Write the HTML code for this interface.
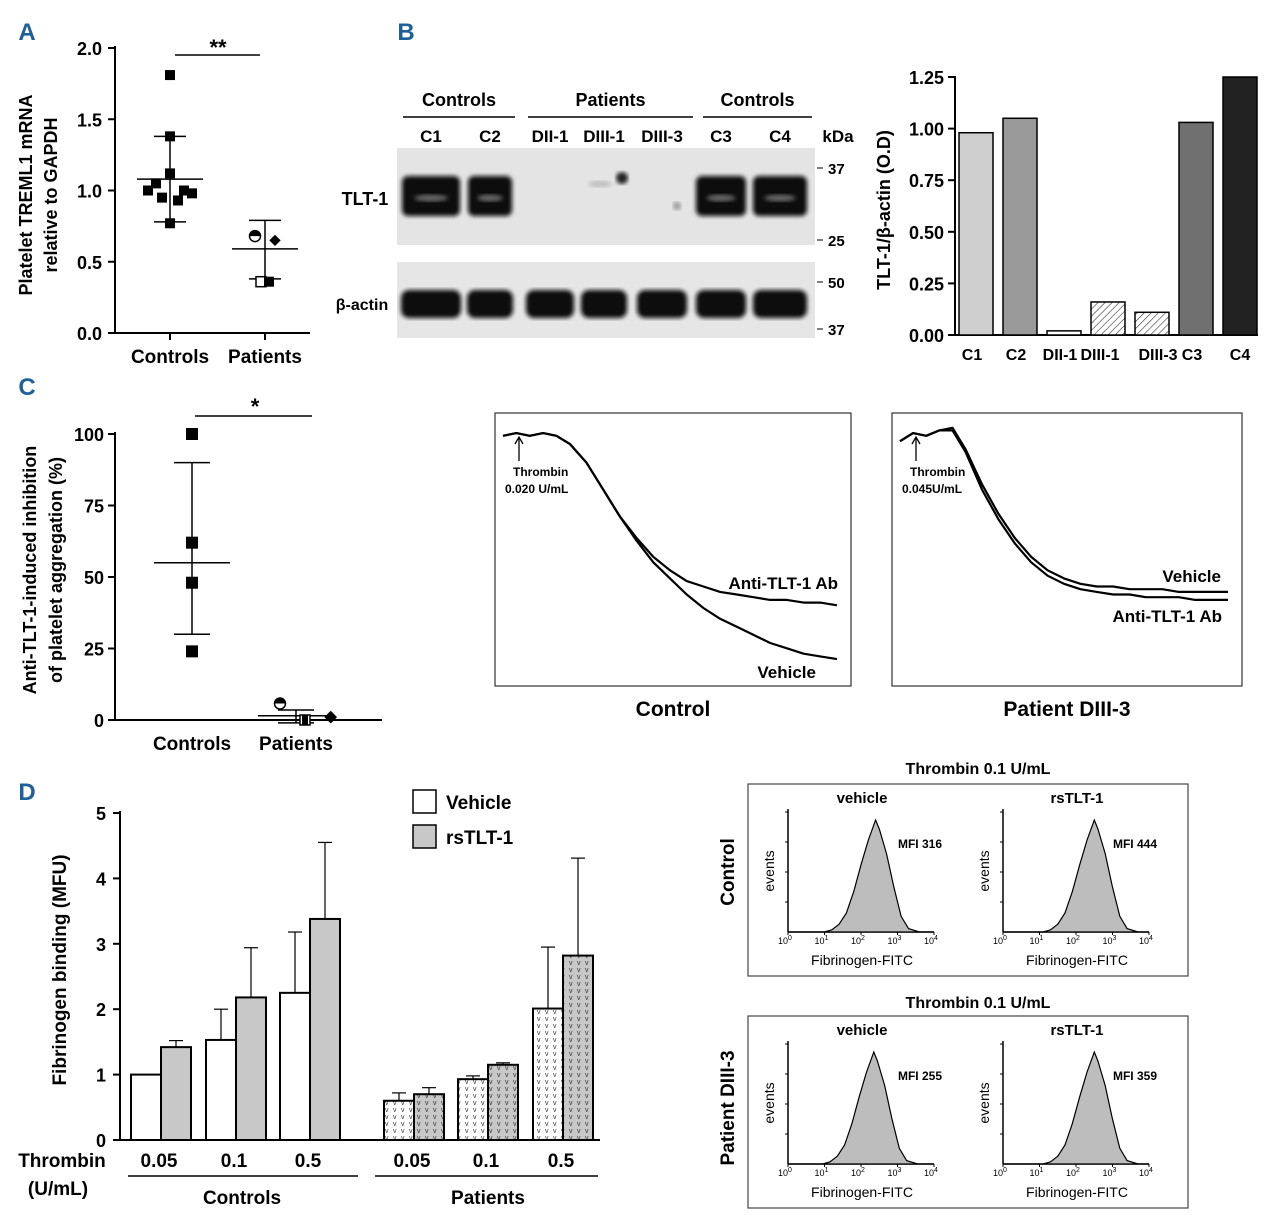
<!DOCTYPE html>
<html><head><meta charset="utf-8">
<style>
html,body{margin:0;padding:0;background:#fff;}
svg{display:block;font-family:"Liberation Sans","DejaVu Sans",sans-serif;}
</style></head>
<body>
<svg id="fig" width="1280" height="1227" viewBox="0 0 1280 1227" xmlns="http://www.w3.org/2000/svg">
<defs>
<pattern id="hatch" width="5" height="5" patternUnits="userSpaceOnUse" patternTransform="rotate(45)"><rect width="5" height="5" fill="#fff"/><line x1="0" y1="0" x2="0" y2="5" stroke="#333" stroke-width="1.2"/></pattern>
<pattern id="dotsW" width="8" height="7" patternUnits="userSpaceOnUse"><rect width="8" height="7" fill="#fff"/><text x="1" y="6" font-size="7" fill="#333">v</text></pattern>
<pattern id="dotsG" width="8" height="7" patternUnits="userSpaceOnUse"><rect width="8" height="7" fill="#c8c8c8"/><text x="1" y="6" font-size="7" fill="#333">v</text></pattern>
<filter id="blur"><feGaussianBlur stdDeviation="2.2"/></filter>
</defs>
<g id="panels"></g>
</svg>
<script>
// ---------- Data ----------
// Panel A
const aCats=["Controls","Patients"];
const aControls=[1.81,1.38,1.12,1.05,1.0,1.0,0.98,0.95,0.93,0.77];
const aPatients=[0.68,0.65,0.36,0.36];
const aMean=[1.08,0.59], aSdHi=[1.38,0.79], aSdLo=[0.78,0.38];
const aTicks=[0,0.5,1.0,1.5,2.0];
// Panel B bars
const bCats=["C1","C2","DII-1","DIII-1","DIII-3","C3","C4"];
const bVals=[0.98,1.05,0.02,0.16,0.11,1.03,1.25];
const bTicks=[0,0.25,0.5,0.75,1.0,1.25];
// Panel C
const cControls=[100,62,48,24];
const cPatients=[4,1,0,0];
const cMean=[55,1.5], cSdHi=[90,3.5], cSdLo=[30,-1];
const cTicks=[0,25,50,75,100];
// Aggregation traces
const trX=[0,0.04,0.08,0.12,0.16,0.2,0.25,0.3,0.35,0.4,0.45,0.5,0.55,0.6,0.65,0.7,0.75,0.8,0.85,0.9,0.95,1];
const tr1Vehicle=[0.07,0.06,0.07,0.06,0.07,0.1,0.17,0.27,0.37,0.46,0.54,0.6,0.66,0.71,0.75,0.78,0.81,0.84,0.86,0.88,0.89,0.9];
const tr1Anti=[0.07,0.06,0.07,0.06,0.07,0.1,0.17,0.27,0.37,0.45,0.52,0.57,0.61,0.63,0.65,0.66,0.67,0.68,0.68,0.69,0.69,0.7];
const tr2Vehicle=[0.09,0.06,0.07,0.05,0.04,0.12,0.25,0.36,0.45,0.52,0.57,0.6,0.62,0.63,0.63,0.64,0.64,0.64,0.65,0.65,0.65,0.65];
const tr2Anti=[0.09,0.06,0.07,0.05,0.05,0.13,0.27,0.38,0.47,0.54,0.59,0.62,0.64,0.65,0.66,0.66,0.67,0.67,0.67,0.68,0.68,0.68];
// Panel D
const dGroups=["0.05","0.1","0.5","0.05","0.1","0.5"];
const dVehicle=[1.0,1.53,2.25,0.6,0.93,2.01];
const dVehicleErr=[1.0,2.0,3.18,0.72,0.98,2.95];
const dRs=[1.42,2.18,3.38,0.7,1.15,2.82];
const dRsErr=[1.52,2.94,4.55,0.8,1.18,4.31];
const dTicks=[0,1,2,3,4,5];
// Flow histograms
const hX=[0.5,1.0,1.2,1.4,1.6,1.8,2.0,2.2,2.4,2.5,2.7,2.9,3.1,3.3,3.6];
const hCounts=[0,0,0.02,0.07,0.17,0.36,0.6,0.82,1.0,0.92,0.7,0.4,0.14,0.03,0];
const hMFI=["MFI 316","MFI 444","MFI 255","MFI 359"];
const hShift=[0,0.1,-0.05,0.1];

// ---------- helpers ----------
const NS="http://www.w3.org/2000/svg";
const root=document.getElementById('panels');
function el(tag,attrs,parent,txt){const e=document.createElementNS(NS,tag);for(const k in attrs)e.setAttribute(k,attrs[k]);if(txt!==undefined)e.textContent=txt;(parent||root).appendChild(e);return e;}
function T(x,y,s,size,opts,parent){opts=opts||{};const a={x:x,y:y,'font-size':size,'text-anchor':opts.anchor||'middle',fill:opts.fill||'#000'};if(opts.bold!==false)a['font-weight']='bold';if(opts.rot)a.transform=`rotate(-90 ${x} ${y})`;return el('text',a,parent,s);}
function L(x1,y1,x2,y2,w,parent){return el('line',{x1,y1,x2,y2,stroke:'#000','stroke-width':w||2},parent);}
function G(name){const g=el('g',{});return g;}

[["A",27,40],["B",406,40],["C",27,395],["D",27,800]].forEach(p=>{const t=T(p[1],p[2],p[0],24,{fill:'#1f5f9a'});});

// ---------- Panel A ----------
(function(){
const g=G('panel-a-scatter');
const y=v=>333-v*142.5, xc=[170,265];
L(115,46,115,334,2,g);L(114,333,310,333,2,g);
aTicks.forEach(t=>{L(108,y(t),115,y(t),2,g);T(102,y(t)+7,t.toFixed(1),18,{anchor:'end'},g);});
xc.forEach((x,i)=>{L(x,333,x,340,2,g);T(x,363,aCats[i],19,{},g);});
T(32,195,"Platelet TREML1 mRNA",18,{rot:true},g);T(57,195,"relative to GAPDH",18,{rot:true},g);
L(175,55,260,55,1.5,g);T(218,55,"**",22,{},g);
[0,1].forEach(i=>{
 L(xc[i],y(aSdHi[i]),xc[i],y(aSdLo[i]),1.5,g);
 L(xc[i]-16,y(aSdHi[i]),xc[i]+16,y(aSdHi[i]),1.5,g);L(xc[i]-16,y(aSdLo[i]),xc[i]+16,y(aSdLo[i]),1.5,g);
 L(xc[i]-33,y(aMean[i]),xc[i]+33,y(aMean[i]),1.5,g);
});
const offs=[0,0,0,-14,-22,14,22,-8,8,0];
aControls.forEach((v,i)=>{const r=el('rect',{x:xc[0]+offs[i]-5,y:y(v)-5,width:10,height:10,fill:'#000'},g);});
const pofs=[-10,10,-4,4];
aPatients.forEach((v,i)=>{let m;
 if(i===0){m=el('circle',{cx:xc[1]+pofs[i],cy:y(v),r:5.5,fill:'#fff',stroke:'#000','stroke-width':1.5},g);el('path',{d:`M${xc[1]+pofs[i]-5.5} ${y(v)} a5.5 5.5 0 0 1 11 0z`,fill:'#000'},g);}
 else if(i===1){m=el('rect',{x:xc[1]+pofs[i]-4,y:y(v)-4,width:8,height:8,fill:'#000',transform:`rotate(45 ${xc[1]+pofs[i]} ${y(v)})`},g);}
 else if(i===2){m=el('rect',{x:xc[1]-9,y:y(v)-5,width:10,height:10,fill:'#fff',stroke:'#000','stroke-width':1.5},g);}
 else {m=el('rect',{x:xc[1]-1,y:y(v)-5,width:10,height:10,fill:'#000'},g);}
 });
})();

// ---------- Panel B blot ----------
(function(){
const g=G('western-blot');
[["Controls",403,515],["Patients",528,693],["Controls",703,812]].forEach(h=>{T((h[1]+h[2])/2,106,h[0],18,{},g);L(h[1],117,h[2],117,1.5,g);});
const lanes=[431,490,550,604,662,721,780];
const names=["C1","C2","DII-1","DIII-1","DIII-3","C3","C4"];
lanes.forEach((x,i)=>T(x,142,names[i],17,{},g));T(838,142,"kDa",17,{},g);
el('rect',{x:397,y:148,width:418,height:97,fill:'#e4e4e4'},g);
el('rect',{x:397,y:262,width:418,height:76,fill:'#e6e6e6'},g);
T(365,205,"TLT-1",18,{},g);T(362,310,"β-actin",16,{},g);
[[37,168],[25,240],[50,282],[37,329]].forEach(m=>{L(817,m[1],823,m[1],1,g);T(828,m[1]+6,m[0],15,{anchor:'start'},g);});
const top=[[431,58],[490,44],[721,50],[780,54]];
top.forEach(b=>{el('rect',{x:b[0]-b[1]/2,y:176,width:b[1],height:40,rx:6,fill:'#0a0a0a',filter:'url(#blur)'},g);el('ellipse',{cx:b[0],cy:198,rx:b[1]/3.5,ry:3.5,fill:'#666',filter:'url(#blur)'},g);});
el('ellipse',{cx:622,cy:178,rx:6,ry:6,fill:'#222',filter:'url(#blur)'},g);
el('ellipse',{cx:600,cy:184,rx:12,ry:3,fill:'#bbb',filter:'url(#blur)'},g);
el('ellipse',{cx:677,cy:206,rx:4,ry:4,fill:'#999',filter:'url(#blur)'},g);
const bw=[60,46,48,46,50,50,54];
lanes.forEach((x,i)=>el('rect',{x:x-bw[i]/2,y:290,width:bw[i],height:28,rx:8,fill:'#0a0a0a',filter:'url(#blur)'},g));
})();

// ---------- Panel B bar chart ----------
(function(){
const g=G('panel-b-bar-chart');
const y=v=>335-v*206.4, x0=976, dx=44;
L(955,76,955,336,2,g);L(954,335,1258,335,2,g);
bTicks.forEach(t=>{L(948,y(t),955,y(t),2,g);T(944,y(t)+7,t.toFixed(2),18,{anchor:'end'},g);});
const fills=['#cfcfcf','#9a9a9a','#fff','url(#hatch)','url(#hatch)','#707070','#222'];
bVals.forEach((v,i)=>{const x=x0+i*dx;const r=el('rect',{x:x-17,y:y(v),width:34,height:335-y(v),fill:fills[i],stroke:'#000','stroke-width':1.5},g);
 T(i===3?x-8:i===4?x+6:x-4+(i===6?4:0),360,bCats[i],16,{},g);});
T(890,210,"TLT-1/β-actin (O.D)",18,{rot:true},g);
})();

// ---------- Panel C ----------
(function(){
const g=G('panel-c-scatter');
const y=v=>720-v*2.86, xc=[192,296];
L(115,432,115,721,2,g);L(114,720,382,720,2,g);
cTicks.forEach(t=>{L(108,y(t),115,y(t),2,g);T(104,y(t)+7,t,18,{anchor:'end'},g);});
[["Controls",192],["Patients",296]].forEach(c=>T(c[1],750,c[0],19,{},g));
T(36,570,"Anti-TLT-1-induced inhibition",18,{rot:true},g);T(62,570,"of platelet aggregation (%)",18,{rot:true},g);
L(195,416,312,416,1.5,g);T(255,414,"*",22,{},g);
[0,1].forEach(i=>{L(xc[i],y(cSdHi[i]),xc[i],y(cSdLo[i]),1.5,g);L(xc[i]-18,y(cSdHi[i]),xc[i]+18,y(cSdHi[i]),1.5,g);L(xc[i]-18,y(cSdLo[i]),xc[i]+18,y(cSdLo[i]),1.5,g);L(xc[i]-38,y(cMean[i]),xc[i]+38,y(cMean[i]),1.5,g);});
cControls.forEach(v=>{const r=el('rect',{x:xc[0]-6,y:y(v)-6,width:12,height:12,fill:'#000'},g);});
const px=[-8,10,4,-2];
cPatients.forEach((v,i)=>{const cx=xc[1]+px[i]+(i===0?-2:0);let m;
 if(i===0){m=el('circle',{cx:cx-6,cy:y(v)-5,r:5.5,fill:'#fff',stroke:'#000','stroke-width':1.5},g);el('path',{d:`M${cx-11.5} ${y(v)-5} a5.5 5.5 0 0 1 11 0z`,fill:'#000'},g);}
 else if(i===1){m=el('rect',{x:cx+20,y:y(v)-5,width:9,height:9,fill:'#000',transform:`rotate(45 ${cx+24} ${y(v)})`},g);}
 else if(i===2){m=el('rect',{x:cx,y:y(v)-5,width:10,height:10,fill:'#fff',stroke:'#000','stroke-width':1.5},g);}
 else {m=el('rect',{x:cx+8,y:y(v)-5,width:6,height:10,fill:'#000'},g);}
 });
})();

// ---------- Aggregation traces ----------
function traces(bx,by,bw,bh,lines,labels,caption,thr,name){
 const g=G(name);
 el('rect',{x:bx,y:by,width:bw,height:bh,fill:'#fff',stroke:'#333','stroke-width':1.2},g);
 const x0=bx+8,x1=bx+bw-14,y0=by+4,y1=by+bh;
 lines.forEach(arr=>{let d='';trX.forEach((f,i)=>{d+=(i?'L':'M')+(x0+f*(x1-x0)).toFixed(1)+' '+(y0+arr[i]*(y1-y0)).toFixed(1);});
  const p=el('path',{d:d,fill:'none',stroke:'#000','stroke-width':2.2,'stroke-linejoin':'round'},g);});
 labels.forEach(l=>T(l[1],l[2],l[0],17,{anchor:'end'},g));
 L(x0+16,by+25,x0+16,by+48,1.3,g);el('path',{d:`M${x0+12} ${by+31} L${x0+16} ${by+24} L${x0+20} ${by+31}`,fill:'none',stroke:'#000','stroke-width':1.3},g);
 T(x0+10,by+63,"Thrombin",12,{anchor:'start'},g);T(x0+2,by+80,thr,12,{anchor:'start'},g);
 T(bx+bw/2,bh+by+30,caption,21,{},g);
}
traces(495,413,356,273,[tr1Vehicle,tr1Anti],[["Anti-TLT-1 Ab",838,589],["Vehicle",816,678]],"Control","0.020 U/mL",'control-aggregation-trace');
traces(892,413,350,273,[tr2Vehicle,tr2Anti],[["Vehicle",1221,582],["Anti-TLT-1 Ab",1222,622]],"Patient DIII-3","0.045U/mL",'patient-aggregation-trace');

// ---------- Panel D ----------
(function(){
const g=G('panel-d-bar-chart');
const y=v=>1140-v*65.4;
const centers=[161,236,310,414,488,563];
L(120,811,120,1141,2,g);L(119,1140,600,1140,2,g);
dTicks.forEach(t=>{L(113,y(t),120,y(t),2,g);T(106,y(t)+7,t,18,{anchor:'end'},g);});
dGroups.forEach((lab,i)=>{const c=centers[i];const pat=i>=3;
 function bar(x,v,e,fill,nm){L(x+15,y(v),x+15,y(e),1.2,g);L(x+8,y(e),x+22,y(e),1.2,g);
  const r=el('rect',{x:x,y:y(v),width:30,height:1140-y(v),fill:fill,stroke:'#000','stroke-width':2},g);}
 bar(c-30,dVehicle[i],dVehicleErr[i],pat?'url(#dotsW)':'#fff','vehicle-bar');
 bar(c,dRs[i],dRsErr[i],pat?'url(#dotsG)':'#c8c8c8','rstlt1-bar');
 T(c-2,1167,lab,19,{},g);});
T(62,1167,"Thrombin",19,{},g);T(58,1195,"(U/mL)",19,{},g);
L(128,1176,358,1176,1.5,g);L(375,1176,598,1176,1.5,g);
T(242,1204,"Controls",19,{},g);T(488,1204,"Patients",19,{},g);
T(66,970,"Fibrinogen binding (MFU)",19,{rot:true},g);
const lg=G('legend');
el('rect',{x:413,y:790,width:23,height:23,fill:'#fff',stroke:'#000','stroke-width':1.5},lg);
el('rect',{x:413,y:825,width:23,height:23,fill:'#c8c8c8',stroke:'#000','stroke-width':1.5},lg);
T(446,809,"Vehicle",19,{anchor:'start'},lg);T(446,844,"rsTLT-1",19,{anchor:'start'},lg);
})();

// ---------- Flow cytometry ----------
(function(){
const g=G('flow-cytometry');
[[784,768],[1016,1002]].forEach(b=>{el('rect',{x:748,y:b[0],width:440,height:192,fill:'#fff',stroke:'#444','stroke-width':1.2},g);T(978,b[1]+6,"Thrombin 0.1 U/mL",16,{},g);});
T(734,872,"Control",19,{rot:true},g);T(734,1108,"Patient DIII-3",19,{rot:true},g);
const pos=[[788,809],[1003,809],[788,1041],[1003,1041]];
const titles=["vehicle","rsTLT-1","vehicle","rsTLT-1"];
pos.forEach((p,k)=>{const ax=p[0],top=p[1],bot=top+123,sx=36.5;
 L(ax,top,ax,bot,1.5,g);L(ax,bot,ax+4*sx,bot,1.5,g);
 for(let j=1;j<=4;j++)L(ax-3,bot-j*30,ax,bot-j*30,1,g);
 for(let j=0;j<=4;j++){L(ax+j*sx,bot,ax+j*sx,bot+3,1,g);const t=T(ax+j*sx-3,bot+12,"10",9,{bold:false},g);el('tspan',{dy:-4,'font-size':7},t,j===4?'4':String(j));}
 let d=`M${ax} ${bot}`;hX.forEach((v,i)=>{d+=`L${(ax+(v+hShift[k])*sx).toFixed(1)} ${(bot-hCounts[i]*112).toFixed(1)}`;});d+=`L${ax+4*sx} ${bot}Z`;
 const h=el('path',{d:d,fill:'#bdbdbd',stroke:'#000','stroke-width':1.2},g);
 T(ax+74,top-6,titles[k],15,{},g);T(ax+132,top+39,hMFI[k],12,{},g);
 T(ax-14,top+62,"events",14,{rot:true,bold:false},g);
 T(ax+74,bot+33,"Fibrinogen-FITC",14,{bold:false},g);
});
})();
</script>
</body></html>
